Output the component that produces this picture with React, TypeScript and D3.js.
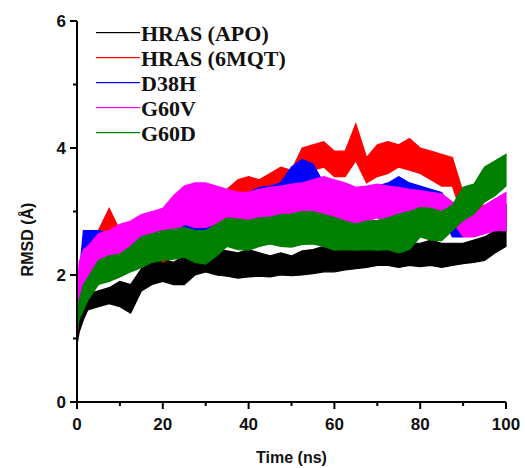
import React from 'react';
import * as d3 from 'd3';

// time points (ns) at which each trace's band (low / high envelope) is read
const times = [0, 0.5, 1.5, 2.5, 5, 7.5, 10, 12.5, 15, 17.5, 20, 22.5, 25, 27.5, 30, 32.5, 35, 37.5, 40, 42.5, 45, 47.5, 50, 52.5, 55, 57.5, 60, 62.5, 65, 67.5, 70, 72.5, 75, 77.5, 80, 82.5, 85, 87.5, 90, 92.5, 95, 97.5, 100];

const apoLo = [0.9, 1.1, 1.3, 1.45, 1.5, 1.55, 1.5, 1.4, 1.75, 1.85, 1.9, 1.85, 1.85, 2.0, 2.05, 2.0, 1.98, 1.95, 1.97, 1.98, 1.97, 2.0, 1.99, 2.0, 2.02, 2.05, 2.05, 2.08, 2.1, 2.12, 2.15, 2.15, 2.12, 2.15, 2.13, 2.15, 2.12, 2.15, 2.18, 2.2, 2.23, 2.35, 2.45];
const apoHi = [1.2, 1.5, 1.6, 1.7, 1.75, 1.8, 1.9, 1.85, 2.1, 2.2, 2.25, 2.2, 2.3, 2.3, 2.35, 2.4, 2.38, 2.35, 2.4, 2.35, 2.3, 2.35, 2.3, 2.38, 2.4, 2.45, 2.45, 2.48, 2.45, 2.5, 2.52, 2.5, 2.55, 2.5, 2.5, 2.55, 2.5, 2.5, 2.5, 2.55, 2.6, 2.7, 2.8];

const mqtLo = [1.0, 1.4, 1.8, 2.0, 2.2, 2.35, 2.3, 2.35, 2.4, 2.45, 2.2, 2.3, 2.3, 2.55, 2.7, 2.85, 3.0, 3.15, 3.25, 3.2, 3.3, 3.3, 3.3, 3.6, 3.65, 3.7, 3.55, 3.55, 3.8, 3.45, 3.55, 3.6, 3.7, 3.65, 3.6, 3.5, 3.4, 3.4, 2.9, 2.8, 2.8, 2.75, 2.8];
const mqtHi = [1.3, 1.9, 2.3, 2.5, 2.7, 3.05, 2.7, 2.75, 2.8, 2.9, 2.5, 2.7, 2.75, 2.95, 3.1, 3.2, 3.35, 3.5, 3.55, 3.5, 3.6, 3.7, 3.65, 4.0, 4.05, 4.1, 3.95, 3.95, 4.38, 3.85, 4.05, 4.1, 4.05, 4.15, 4.0, 3.95, 3.9, 3.85, 3.3, 3.05, 3.1, 3.05, 3.1];

const d38hLo = [1.1, 1.5, 1.9, 2.1, 2.2, 2.25, 2.25, 2.3, 2.35, 2.4, 2.45, 2.5, 2.55, 2.55, 2.6, 2.75, 2.8, 2.9, 3.0, 3.0, 3.02, 3.1, 3.3, 3.38, 3.35, 3.05, 3.0, 3.0, 3.0, 3.05, 3.05, 3.0, 3.0, 3.05, 3.05, 3.0, 2.95, 2.6, 2.6, 2.7, 2.8, 2.8, 2.8];
const d38hHi = [1.4, 2.0, 2.7, 2.7, 2.7, 2.65, 2.7, 2.75, 2.8, 2.85, 2.9, 2.95, 3.0, 3.0, 3.05, 3.1, 3.15, 3.25, 3.3, 3.38, 3.4, 3.45, 3.7, 3.82, 3.75, 3.45, 3.4, 3.35, 3.35, 3.35, 3.4, 3.45, 3.55, 3.45, 3.4, 3.35, 3.3, 3.0, 2.9, 2.95, 3.0, 3.05, 3.1];

const g60vLo = [1.3, 1.6, 1.85, 1.95, 2.1, 2.2, 2.28, 2.3, 2.38, 2.45, 2.5, 2.65, 2.8, 2.75, 2.75, 2.8, 2.85, 2.85, 2.86, 2.85, 2.9, 2.9, 2.9, 2.9, 2.95, 2.9, 2.9, 2.85, 2.8, 2.85, 2.9, 2.85, 2.85, 2.9, 2.9, 2.9, 2.9, 2.85, 2.6, 2.6, 2.65, 2.7, 2.7];
const g60vHi = [1.6, 2.2, 2.4, 2.45, 2.65, 2.7, 2.8, 2.85, 2.95, 3.0, 3.05, 3.25, 3.4, 3.45, 3.45, 3.4, 3.35, 3.3, 3.3, 3.35, 3.38, 3.4, 3.43, 3.45, 3.5, 3.55, 3.5, 3.45, 3.38, 3.4, 3.43, 3.4, 3.38, 3.35, 3.33, 3.3, 3.28, 3.15, 2.9, 2.95, 3.1, 3.2, 3.3];

const g60dLo = [1.1, 1.3, 1.45, 1.6, 1.85, 1.9, 1.97, 2.05, 2.12, 2.2, 2.23, 2.25, 2.28, 2.2, 2.17, 2.3, 2.45, 2.4, 2.39, 2.45, 2.49, 2.45, 2.44, 2.48, 2.49, 2.45, 2.39, 2.4, 2.39, 2.4, 2.39, 2.4, 2.35, 2.4, 2.6, 2.55, 2.54, 2.7, 2.86, 2.96, 3.15, 3.25, 3.4];
const g60dHi = [1.3, 1.6, 1.85, 1.95, 2.23, 2.3, 2.33, 2.45, 2.6, 2.65, 2.7, 2.72, 2.75, 2.7, 2.7, 2.8, 2.9, 2.88, 2.86, 2.9, 2.91, 2.95, 2.96, 3.0, 3.0, 2.95, 2.91, 2.85, 2.8, 2.85, 2.86, 2.9, 2.96, 3.0, 3.06, 3.05, 3.0, 3.1, 3.38, 3.43, 3.7, 3.8, 3.9];

const seriesNames = ['HRAS (APO)', 'HRAS (6MQT)', 'D38H', 'G60V', 'G60D'];
const seriesColors = ['#000000', '#ff0000', '#0000ff', '#ff00ff', '#008000'];
const seriesLo = [apoLo, mqtLo, d38hLo, g60vLo, g60dLo];
const seriesHi = [apoHi, mqtHi, d38hHi, g60vHi, g60dHi];

const xTicks = [0, 20, 40, 60, 80, 100];
const yTicks = [0, 2, 4, 6];

export default function App() {
  const x = d3.scaleLinear().domain([0, 100]).range([77, 506]);
  const y = d3.scaleLinear().domain([0, 6]).range([402, 21]);

  const bandPath = (lo: number[], hi: number[]) =>
    d3
      .area<number>()
      .x((_, i) => x(times[i]))
      .y0((_, i) => y(lo[i]))
      .y1((_, i) => y(hi[i]))(lo as any);

  const xMinor = d3.range(10, 100, 20);
  const yMinor = [1, 3, 5];

  return (
    <div style={{ position: 'absolute', left: 0, top: 0 }}>
      <svg width={525} height={468} style={{ display: 'block', background: '#fff' }}>
        {seriesNames.map((name, k) => (
          <path
            key={name}
            d={bandPath(seriesLo[k], seriesHi[k]) || ''}
            fill={seriesColors[k]}
            stroke={seriesColors[k]}
            strokeWidth={1.2}
            strokeLinejoin="miter"
          />
        ))}

        {/* axes */}
        <g stroke="#000" strokeWidth={2}>
          <line x1={x(0)} x2={x(0)} y1={y(0) + 1} y2={y(6)} />
          <line x1={x(0) - 1} x2={x(100)} y1={y(0)} y2={y(0)} />
          {yTicks.map((t) => (
            <line key={'yt' + t} x1={x(0) - 7} x2={x(0)} y1={y(t)} y2={y(t)} />
          ))}
          {yMinor.map((t) => (
            <line key={'ym' + t} x1={x(0) - 4} x2={x(0)} y1={y(t)} y2={y(t)} />
          ))}
          {xTicks.map((t) => (
            <line key={'xt' + t} x1={x(t)} x2={x(t)} y1={y(0)} y2={y(0) + 7} />
          ))}
          {xMinor.map((t) => (
            <line key={'xm' + t} x1={x(t)} x2={x(t)} y1={y(0)} y2={y(0) + 4} />
          ))}
        </g>

        <g fontFamily="'Liberation Sans', Arial, sans-serif" fontWeight="bold" fontSize={17} fill="#111">
          {yTicks.map((t) => (
            <text key={'yl' + t} x={x(0) - 11} y={y(t)} textAnchor="end" dominantBaseline="central">
              {t}
            </text>
          ))}
          {xTicks.map((t) => (
            <text key={'xl' + t} x={x(t)} y={y(0) + 22} textAnchor="middle" dominantBaseline="central">
              {t}
            </text>
          ))}
          <text x={x(50)} y={457} textAnchor="middle" dominantBaseline="central" fontSize={16}>
            Time (ns)
          </text>
          <text
            transform={`translate(27,${y(3) + 28}) rotate(-90)`}
            textAnchor="middle"
            dominantBaseline="central"
            fontSize={16}
          >
            RMSD (Å)
          </text>
        </g>

        {/* legend */}
        <g fontFamily="'Liberation Serif', 'Times New Roman', serif" fontWeight="bold" fontSize={22} fill="#111">
          {seriesNames.map((name, k) => (
            <g key={'lg' + name} transform={`translate(96,${32 + k * 25})`}>
              <rect x={0} y={0} width={44} height={1.2} fill={seriesColors[k]} />
              <text x={45} y={1} dominantBaseline="central">
                {name}
              </text>
            </g>
          ))}
        </g>
      </svg>
    </div>
  );
}
